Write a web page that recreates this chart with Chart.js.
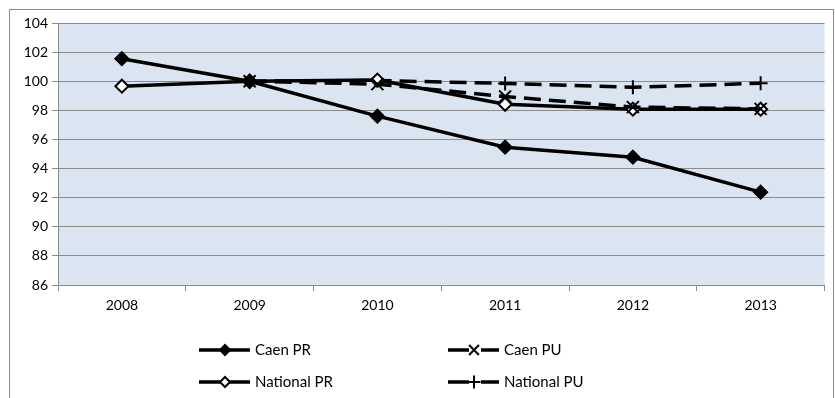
<!DOCTYPE html>
<html>
<head>
<meta charset="utf-8">
<script src="https://cdn.jsdelivr.net/npm/chart.js@4/dist/chart.umd.min.js"></script>
<style>
  html, body { margin: 0; padding: 0; background: #fff; }
  #wrap { position: relative; width: 835px; height: 398px; }
</style>
</head>
<body>
<div id="wrap"><canvas id="c" width="835" height="398"></canvas></div>
<script>
// Index values (2009 = 100)
const years = ['2008', '2009', '2010', '2011', '2012', '2013'];
const caenPR = [101.55, 100.0, 97.6, 95.47, 94.78, 92.38];
const caenPU = [null, 100.0, 99.8, 98.95, 98.22, 98.1];
const nationalPR = [99.66, 100.0, 100.08, 98.42, 98.08, 98.08];
const nationalPU = [null, 100.0, 100.05, 99.85, 99.58, 99.86];
const yTicks = [86, 88, 90, 92, 94, 96, 98, 100, 102, 104];

const FONT = 'Lato, "Open Sans", "Liberation Sans", sans-serif';
const DASH = [17, 8];

const seriesDefs = [
  { label: 'Caen PR', data: caenPR, pointStyle: 'rectRot', fill: '#000', radius: 6.5, dash: [] , lgRadius: 5},
  { label: 'Caen PU', data: caenPU, pointStyle: 'crossRot', fill: '#000', radius: 8.5, dash: DASH, lgRadius: 7},
  { label: 'National PR', data: nationalPR, pointStyle: 'rectRot', fill: '#fff', radius: 6.5, dash: [], lgRadius: 5},
  { label: 'National PU', data: nationalPU, pointStyle: 'cross', fill: '#000', radius: 7, dash: DASH, lgRadius: 6.5}
];

const datasets = seriesDefs.map((s, i) => ({
  label: s.label,
  data: s.data,
  borderColor: '#000',
  borderWidth: 3.5,
  borderDash: s.dash,
  pointStyle: s.pointStyle,
  pointRadius: s.radius,
  pointBackgroundColor: s.fill,
  pointBorderColor: '#000',
  pointBorderWidth: 2,
  spanGaps: false,
  tension: 0,
  order: i
}));

// Outer frame and plot background
const framePlugin = {
  id: 'frame',
  beforeDraw(chart) {
    const ctx = chart.ctx;
    const a = chart.chartArea;
    ctx.save();
    ctx.fillStyle = '#fff';
    ctx.fillRect(0, 0, chart.width, chart.height);
    ctx.strokeStyle = '#8c8c8c';
    ctx.lineWidth = 1;
    ctx.strokeRect(9.5, 9.5, 824, 400);
    ctx.fillStyle = '#dbe5f1';
    ctx.fillRect(a.left, a.top, a.right - a.left, a.bottom - a.top);
    ctx.restore();
  }
};

// Two-column legend with line + marker samples
const legendPlugin = {
  id: 'gridLegend',
  afterDraw(chart) {
    const ctx = chart.ctx;
    const cols = [199, 448];
    const rows = [350, 382];
    ctx.save();
    seriesDefs.forEach((s, k) => {
      const x0 = cols[k % 2];
      const y = rows[Math.floor(k / 2)];
      const x1 = x0 + 51;
      const mid = x0 + 26;
      ctx.strokeStyle = '#000';
      ctx.lineWidth = 3.5;
      ctx.setLineDash([]);
      ctx.beginPath();
      if (s.dash.length) {
        ctx.moveTo(x0, y); ctx.lineTo(mid - 5, y);
        ctx.moveTo(mid + 7, y); ctx.lineTo(x1, y);
      } else {
        ctx.moveTo(x0, y); ctx.lineTo(x1, y);
      }
      ctx.stroke();
      ctx.fillStyle = s.fill;
      ctx.lineWidth = 2;
      Chart.helpers.drawPoint(ctx, {
        pointStyle: s.pointStyle,
        radius: s.lgRadius,
        rotation: 0,
        borderWidth: 2
      }, mid, y);
      ctx.fillStyle = '#000';
      ctx.font = '15px ' + FONT;
      ctx.textAlign = 'left';
      ctx.textBaseline = 'middle';
      ctx.fillText(s.label, x1 + 5, y);
    });
    ctx.restore();
  }
};

new Chart(document.getElementById('c'), {
  type: 'line',
  data: { labels: years, datasets },
  options: {
    responsive: false,
    animation: false,
    devicePixelRatio: 1,
    layout: { padding: { left: 0, right: 3, top: 23, bottom: 83 } },
    plugins: {
      legend: { display: false },
      tooltip: { enabled: false }
    },
    scales: {
      x: {
        offset: true,
        grid: {
          offset: true,
          drawOnChartArea: false,
          drawTicks: true,
          tickLength: 6,
          color: '#8c8c8c'
        },
        border: { color: '#8c8c8c', width: 1 },
        ticks: {
          color: '#000',
          font: { family: FONT, size: 14 },
          padding: 6,
          maxRotation: 0
        },
        afterFit(scale) { scale.height = 30; }
      },
      y: {
        min: 86,
        max: 104,
        afterBuildTicks(scale) { scale.ticks = yTicks.map(v => ({ value: v })); },
        grid: {
          color: '#8c8c8c',
          lineWidth: 1,
          tickLength: 6
        },
        border: { color: '#8c8c8c', width: 1 },
        ticks: {
          color: '#000',
          font: { family: FONT, size: 14 },
          padding: 4
        },
        afterFit(scale) { scale.width = 58; }
      }
    }
  },
  plugins: [framePlugin, legendPlugin]
});
</script>
</body>
</html>
